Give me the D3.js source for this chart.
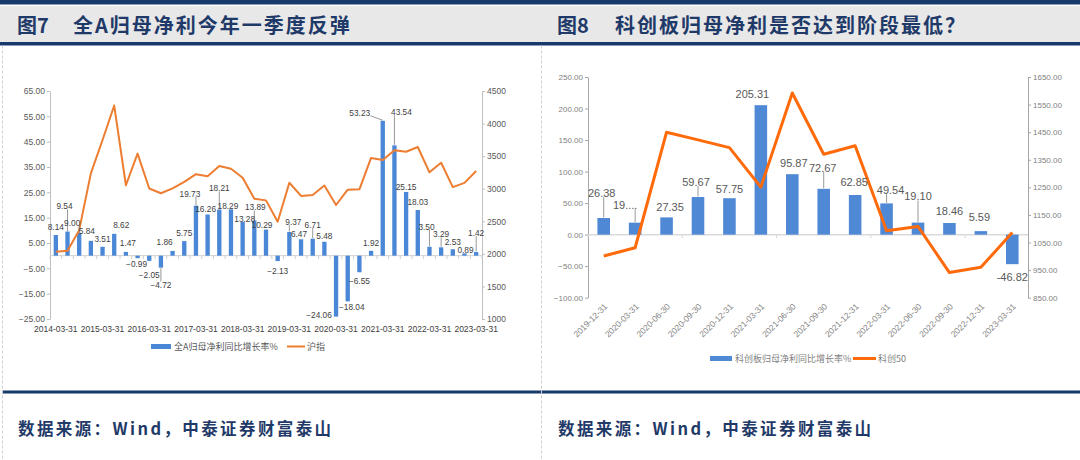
<!DOCTYPE html>
<html>
<head>
<meta charset="utf-8">
<script src="https://cdn.jsdelivr.net/npm/d3@7"></script>
<style>
  body { margin: 0; background: #fff; }
  svg text { font-family: "Liberation Sans", Arial, sans-serif; }
  .cjk { font-family: "Noto Sans CJK SC", sans-serif; }
</style>
</head>
<body>
<svg id="chart" width="1080" height="460"></svg>
<script>
// ---- data: 图7 全A ----
var quarterDates = ["2014-03-31","2014-06-30","2014-09-30","2014-12-31",
  "2015-03-31","2015-06-30","2015-09-30","2015-12-31",
  "2016-03-31","2016-06-30","2016-09-30","2016-12-31",
  "2017-03-31","2017-06-30","2017-09-30","2017-12-31",
  "2018-03-31","2018-06-30","2018-09-30","2018-12-31",
  "2019-03-31","2019-06-30","2019-09-30","2019-12-31",
  "2020-03-31","2020-06-30","2020-09-30","2020-12-31",
  "2021-03-31","2021-06-30","2021-09-30","2021-12-31",
  "2022-03-31","2022-06-30","2022-09-30","2022-12-31",
  "2023-03-31"];
var profitGrowthA = [8.14, 9.54, 9.00, 5.84, 3.51, 8.62, 1.47, -0.99, -2.05, -4.72, 1.86, 5.75,
  19.73, 16.26, 18.21, 18.29, 13.28, 13.89, 10.29, -2.13, 9.37, 6.47, 6.71, 5.48,
  -24.06, -18.04, -6.55, 1.92, 53.23, 43.54, 25.15, 18.03, 3.50, 3.29, 2.53, 0.89, 1.42];
var shIndex = [2033, 2048, 2364, 3235, 3748, 4277, 3053, 3539, 3004, 2930, 3005, 3104,
  3223, 3192, 3349, 3307, 3169, 2847, 2821, 2494, 3091, 2890, 2905, 3050,
  2750, 2985, 2990, 3473, 3442, 3591, 3568, 3640, 3252, 3399, 3024, 3089, 3273];
var leftTicksA = [-25, -15, -5, 5, 15, 25, 35, 45, 55, 65];
var rightTicksA = [1000, 1500, 2000, 2500, 3000, 3500, 4000, 4500];

// ---- data: 图8 科创板 ----
var starDates = ["2019-12-31","2020-03-31","2020-06-30","2020-09-30","2020-12-31",
  "2021-03-31","2021-06-30","2021-09-30","2021-12-31","2022-03-31",
  "2022-06-30","2022-09-30","2022-12-31","2023-03-31"];
var starGrowth = [26.38, 19.0, 27.35, 59.67, 57.75, 205.31, 95.87, 72.67, 62.85, 49.54, 19.10, 18.46, 5.59, -46.82];
var starLabels = ["26.38","19....","27.35","59.67","57.75","205.31","95.87","72.67","62.85","49.54","19.10","18.46","5.59","-46.82"];
var star50 = [1001, 1031, 1450, 1422, 1394, 1251, 1592, 1370, 1401, 1093, 1108, 941, 960, 1086];
var leftTicksB = [-100, -50, 0, 50, 100, 150, 200, 250];
var rightTicksB = [850, 950, 1050, 1150, 1250, 1350, 1450, 1550, 1650];

// label nudges (dx, dy, leader line) -- layout only
var nudgeA = {1:[-3,-25,1],2:[-7,-10,1],3:[-4,-10,0],5:[7,-9,0],6:[2,-9,0],7:[-1,6,0],8:[0,14,0],
  9:[0,17,1],10:[-8,-9,0],12:[-6,-12,1],13:[-2,-5,0],14:[0,-21,1],15:[-3,-3,0],16:[2,-3,0],
  17:[1,-13,1],18:[-4,-5,0],19:[0,10,0],20:[4,-10,1],21:[-2,-5,0],22:[0,-14,1],23:[0,-6,0],
  24:[-17,-2,0],25:[4,6,0],26:[0,9,0],28:[-23,-8,1],29:[7,-33,1],30:[0,-5,0],32:[-3,-20,1],
  33:[0,-13,1],34:[0,-7,0],35:[1,-3,0],36:[0,-19,1]};
var nudgeB = {0:[-2,-25,1],1:[-10,-18,1],2:[3.5,-10,0],3:[-2,-15,1],4:[0,-9,0],5:[-8.5,-11,0],
  6:[1.5,-11,0],7:[-1,-21,1],8:[-1,-12.5,0],9:[4,-13,1],10:[0,-26,1],11:[0,-12,0],
  12:[-1.5,-14,0],13:[0,12.5,0]};

var navy = "#173a6b";
var svg = d3.select("#chart");

// header / frame
svg.append("rect").attr("x", 0).attr("y", 0).attr("width", 1080).attr("height", 4.5).attr("fill", navy);
svg.append("rect").attr("x", 0).attr("y", 6).attr("width", 1080).attr("height", 36).attr("fill", "#e8e8e8");
svg.append("rect").attr("x", 0).attr("y", 42).attr("width", 1080).attr("height", 3.5).attr("fill", navy);
svg.append("rect").attr("x", 2).attr("y", 390.5).attr("width", 1078).attr("height", 3).attr("fill", navy);
[2.5, 541.5].forEach(function(xx) {
  svg.append("line").attr("x1", xx).attr("x2", xx).attr("y1", 45.5).attr("y2", 460)
    .attr("stroke", "#d0d0d0").attr("stroke-dasharray", "3,2").attr("stroke-width", 1);
});

var titles = [["图7", 17, "全A归母净利今年一季度反弹", 73], ["图8", 557, "科创板归母净利是否达到阶段最低？", 615]];
titles.forEach(function(t) {
  svg.append("text").attr("class", "cjk").attr("x", t[1]).attr("y", 33)
    .attr("font-size", 20).attr("font-weight", 700).attr("fill", "#1f3a68").text(t[0]);
  svg.append("text").attr("class", "cjk").attr("x", t[3]).attr("y", 33)
    .attr("font-size", 20).attr("font-weight", 700).attr("letter-spacing", 2).attr("fill", "#1f3a68").text(t[2]);
  svg.append("text").attr("class", "cjk").attr("x", t[1] + 1).attr("y", 435)
    .attr("font-size", 16.5).attr("font-weight", 700).attr("letter-spacing", 2.4).attr("fill", "#1f3a68")
    .text("数据来源：Wind，中泰证券财富泰山");
});

function drawCombo(opt) {
  var g = svg.append("g");
  var x = d3.scaleBand().domain(opt.cats).range(opt.xRange)
    .paddingInner(opt.pad).paddingOuter(opt.pad / 2);
  var y = d3.scaleLinear().domain(opt.yDomain).range(opt.yRange);
  var y2 = d3.scaleLinear().domain(opt.y2Domain).range(opt.yRange);
  var step = x.step();

  // axes
  var leftAxis = d3.axisLeft(y).tickValues(opt.yTicks).tickFormat(d3.format(".2f"))
    .tickSize(3).tickSizeOuter(0).tickPadding(2);
  var rightAxis = d3.axisRight(y2).tickValues(opt.y2Ticks).tickFormat(d3.format(opt.y2Format))
    .tickSize(3).tickSizeOuter(0).tickPadding(2);
  var ga = g.append("g").attr("transform", `translate(${opt.xRange[0]},0)`).call(leftAxis);
  var gb = g.append("g").attr("transform", `translate(${opt.xRange[1]},0)`).call(rightAxis);
  [ga, gb].forEach(function(a) {
    a.select(".domain").attr("stroke", opt.axisColor);
    a.selectAll(".tick line").attr("stroke", opt.axisColor);
    a.selectAll(".tick text").attr("fill", opt.tickColor).attr("font-size", opt.tickSize)
      .attr("font-family", "Liberation Sans, Arial, sans-serif");
  });

  // zero line + category ticks
  g.append("line").attr("x1", opt.xRange[0]).attr("x2", opt.xRange[1])
    .attr("y1", y(0)).attr("y2", y(0)).attr("stroke", opt.zeroColor).attr("stroke-width", opt.zeroWidth);
  d3.range(0, opt.cats.length + 1, opt.catTickEvery).forEach(function(k) {
    var xx = opt.xRange[0] + k * step;
    g.append("line").attr("x1", xx).attr("x2", xx).attr("y1", y(0)).attr("y2", y(0) + 3.5)
      .attr("stroke", opt.zeroColor);
  });

  // bars
  g.append("g").selectAll("rect").data(opt.bars).enter().append("rect")
    .attr("x", function(d, i) { return x(opt.cats[i]); })
    .attr("y", function(d) { return y(Math.max(0, d)); })
    .attr("width", x.bandwidth())
    .attr("height", function(d) { return Math.abs(y(d) - y(0)); })
    .attr("fill", opt.barColor);

  // line
  var line = d3.line()
    .x(function(d, i) { return x(opt.cats[i]) + x.bandwidth() / 2; })
    .y(function(d) { return y2(d); });
  g.append("path").datum(opt.line).attr("d", line).attr("fill", "none")
    .attr("stroke", opt.lineColor).attr("stroke-width", opt.lineWidth).attr("stroke-linejoin", "round");

  // x labels
  opt.cats.forEach(function(c, i) {
    if (i % opt.labelEvery !== 0) return;
    var cx = x(c) + x.bandwidth() / 2;
    var t = g.append("text").attr("fill", opt.xLabelColor).attr("font-size", opt.xLabelSize).text(c);
    if (opt.rotate) {
      t.attr("text-anchor", "end").attr("dy", "0.35em")
        .attr("transform", `translate(${cx + 2},${opt.xLabelY}) rotate(-45)`);
    } else {
      t.attr("x", cx).attr("y", opt.xLabelY).attr("text-anchor", "middle");
    }
  });

  // data labels
  var leaders = g.append("g");
  opt.bars.forEach(function(v, i) {
    var nd = opt.nudge[i] || [0, v >= 0 ? -opt.gap : opt.gap, 0];
    var bx = x(opt.cats[i]) + x.bandwidth() / 2, by = y(v);
    var t = g.append("text").attr("x", bx + nd[0]).attr("y", by + nd[1]).attr("dy", "0.35em")
      .attr("text-anchor", "middle").attr("font-size", opt.labelSize).attr("fill", opt.labelColor)
      .text(opt.labelText(v, i));
    if (nd[2]) {
      var b = t.node().getBBox();
      var top = b.y + 2, bot = b.y + b.height - 2;
      var px = Math.max(b.x, Math.min(bx, b.x + b.width));
      var py = Math.max(top, Math.min(by, bot));
      leaders.append("line").attr("x1", px).attr("y1", py).attr("x2", bx).attr("y2", by + (v >= 0 ? -0.5 : 0.5))
        .attr("stroke", "#7f7f7f").attr("stroke-width", 0.8);
    }
  });

  // legend
  var lg = opt.legend;
  g.append("rect").attr("x", lg.x).attr("y", lg.y - 2.5).attr("width", lg.sw).attr("height", 5).attr("fill", opt.barColor);
  g.append("text").attr("class", "cjk").attr("x", lg.x + lg.sw + 3).attr("y", lg.y).attr("dy", "0.35em")
    .attr("font-size", 9).attr("fill", lg.color).text(lg.barName);
  g.append("line").attr("x1", lg.lx).attr("x2", lg.lx + lg.lw).attr("y1", lg.y).attr("y2", lg.y)
    .attr("stroke", opt.lineColor).attr("stroke-width", opt.lineWidth);
  g.append("text").attr("class", "cjk").attr("x", lg.lx + lg.lw + 2).attr("y", lg.y).attr("dy", "0.35em")
    .attr("font-size", 9).attr("fill", lg.color).text(lg.lineName);
}

drawCombo({
  cats: quarterDates, bars: profitGrowthA, line: shIndex,
  xRange: [50, 482], pad: 0.63,
  yDomain: [-25, 65], y2Domain: [1000, 4500], yRange: [319, 91],
  yTicks: leftTicksA, y2Ticks: rightTicksA, y2Format: "d",
  axisColor: "#bfbfbf", tickColor: "#595959", tickSize: 8.5,
  zeroColor: "#d0d0d0", zeroWidth: 1, catTickEvery: 1,
  barColor: "#4a87d6", lineColor: "#ed7d31", lineWidth: 2,
  labelEvery: 4, rotate: false, xLabelY: 332, xLabelColor: "#404040", xLabelSize: 8.5,
  nudge: nudgeA, gap: 8, labelSize: 8.3, labelColor: "#404040",
  labelText: function(v) { return d3.format(".2f")(v); },
  legend: { x: 151, y: 346.5, sw: 20, lx: 287, lw: 18, color: "#595959",
    barName: "全A归母净利同比增长率%", lineName: "沪指" }
});

drawCombo({
  cats: starDates, bars: starGrowth, line: star50,
  xRange: [588, 1028], pad: 0.6,
  yDomain: [-100, 250], y2Domain: [850, 1650], yRange: [297.7, 77],
  yTicks: leftTicksB, y2Ticks: rightTicksB, y2Format: ".2f",
  axisColor: "#a6a6a6", tickColor: "#7f7f7f", tickSize: 8,
  zeroColor: "#d9d9d9", zeroWidth: 1.5, catTickEvery: 3,
  barColor: "#4f89d6", lineColor: "#ff6a0a", lineWidth: 3,
  labelEvery: 1, rotate: true, xLabelY: 305, xLabelColor: "#7f7f7f", xLabelSize: 8.5,
  nudge: nudgeB, gap: 10, labelSize: 11, labelColor: "#595959",
  labelText: function(v, i) { return starLabels[i]; },
  legend: { x: 710, y: 358.5, sw: 22, lx: 853, lw: 23, color: "#7f7f7f",
    barName: "科创板归母净利同比增长率%", lineName: "科创50" }
});
</script>
</body>
</html>
